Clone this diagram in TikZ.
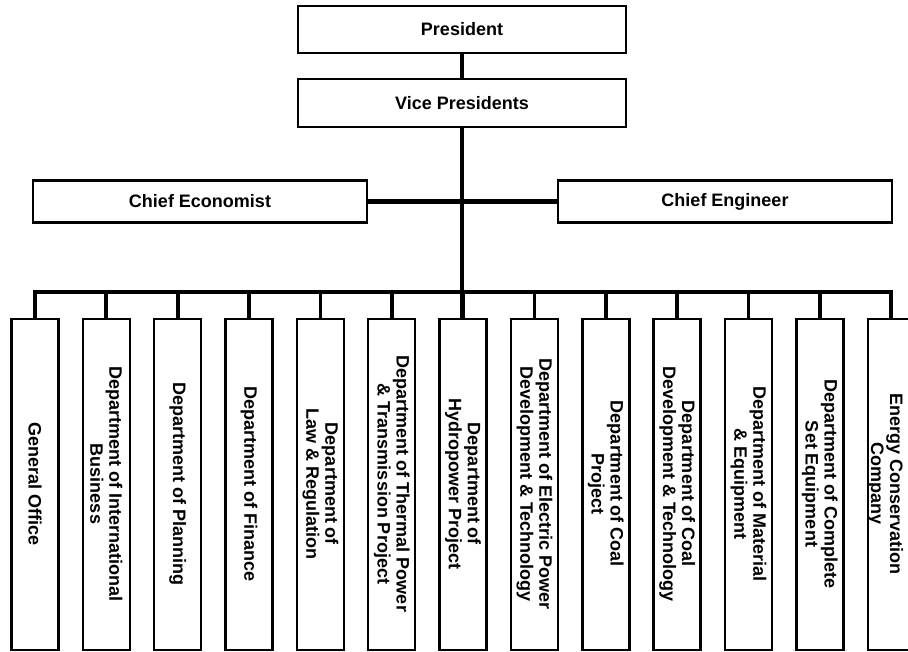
\documentclass[tikz,border=0pt]{standalone}
\usepackage{fontspec}
\setmainfont{Liberation Sans}
\begin{document}
\begin{tikzpicture}[x=1pt,y=-1pt,
  lbl/.style={font=\fontsize{18}{19}\selectfont\bfseries},
  box/.style={draw, line width=2.2pt, inner sep=0pt, lbl},
  conn/.style={line width=3.8pt, line cap=rect},
  dept/.style={draw, line width=2.4pt, inner sep=0pt, minimum width=47pt, minimum height=331pt, anchor=north},
  depttext/.style={lbl, rotate=-90, align=center, inner sep=0pt}]
\useasboundingbox (0,0) rectangle (908,652);
\node[box, minimum width=328pt, minimum height=47pt] (pres) at (462,29.5) {President};
\node[box, minimum width=328pt, minimum height=48pt] (vp) at (462,103) {Vice Presidents};
\node[box, minimum width=334pt, minimum height=42pt] (ce) at (200,201.5) {Chief Economist};
\node[box, minimum width=334pt, minimum height=42pt] (cg) at (725,201.5) {Chief Engineer};
\foreach \txt [count=\i from 1] in {General Office,
  {Department of International\\Business},
  Department of Planning,
  Department of Finance,
  {Department of\\Law \& Regulation},
  {Department of Thermal Power\\\& Transmission Project},
  {Department of\\Hydropower Project},
  {Department of Electric Power\\Development \& Technology},
  {Department of Coal\\Project},
  {Department of Coal\\Development \& Technology},
  {Department of Material\\\& Equipment},
  {Department of Complete\\Set Equipment},
  {Energy Conservation\\Company}} {
  \pgfmathsetmacro\cx{35+71.35*(\i-1)}
  \pgfmathsetmacro\tx{\i==13 ? \cx-6 : \cx}
  \node[dept] (d\i) at (\cx,318) {};
  \node[depttext] (t\i) at (\tx,484) {\txt};
}
\coordinate (bus) at (462,292);
\draw[conn] (pres.south) -- (vp.north);
\draw[conn] (vp.south) -- (vp.south |- d7.north);
\draw[conn, line width=5pt, line cap=butt] (ce.east) -- (cg.west);
\draw[conn, line cap=butt] (d1.north) -- (d1.north |- bus) -- (d13.north |- bus) -- (d13.north);
\foreach \i in {2,...,12} \draw[conn, line cap=butt] (d\i.north) -- (d\i.north |- bus);
\end{tikzpicture}
\end{document}
